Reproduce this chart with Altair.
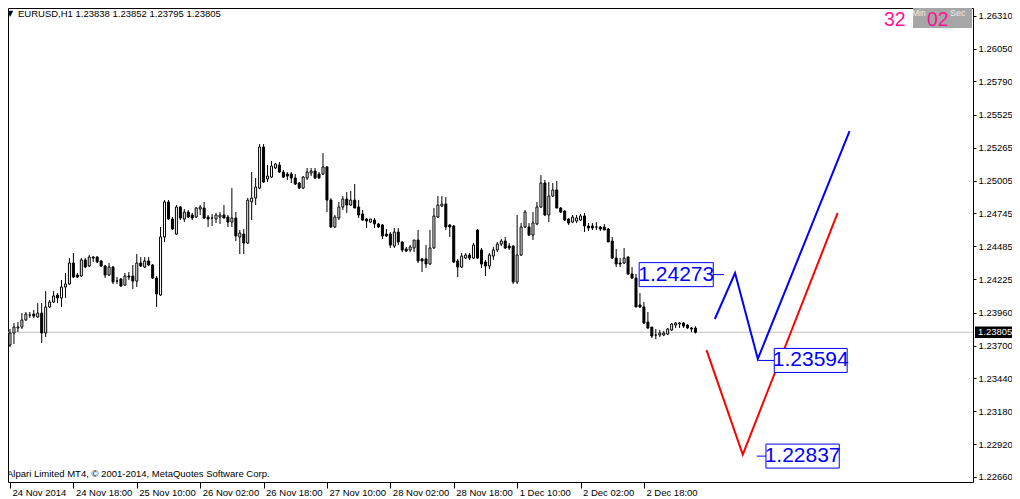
import altair as alt
import pandas as pd

# ---------------- data (EURUSD H1) ----------------
opens = [
    1.23704, 1.23799, 1.23839, 1.23846, 1.23902, 1.23941, 1.23949, 1.23926, 1.23957, 1.23799,
    1.24005, 1.24044, 1.24100, 1.24076, 1.24163, 1.24187, 1.24353, 1.24258, 1.24250, 1.24377,
    1.24329, 1.24400, 1.24400, 1.24369, 1.24329, 1.24258, 1.24321, 1.24210, 1.24226, 1.24179,
    1.24250, 1.24250, 1.24210, 1.24353, 1.24321, 1.24369, 1.24337, 1.24234, 1.24100, 1.24559,
    1.24836, 1.24701, 1.24582, 1.24796, 1.24701, 1.24756, 1.24733, 1.24717, 1.24780, 1.24788,
    1.24717, 1.24709, 1.24701, 1.24717, 1.24733, 1.24717, 1.24677, 1.24709, 1.24559, 1.24582,
    1.24511, 1.24836, 1.24867, 1.24946, 1.25271, 1.25018, 1.25033, 1.25105, 1.25128, 1.25073,
    1.25057, 1.25057, 1.25026, 1.24986, 1.24946, 1.25026, 1.25065, 1.25081, 1.25057, 1.25057,
    1.25113, 1.24851, 1.24638, 1.24709, 1.24796, 1.24859, 1.24812, 1.24851, 1.24796, 1.24741,
    1.24701, 1.24677, 1.24693, 1.24662, 1.24654, 1.24582, 1.24582, 1.24487, 1.24598, 1.24519,
    1.24464, 1.24456, 1.24472, 1.24535, 1.24385, 1.24385, 1.24345, 1.24472, 1.24717, 1.24804,
    1.24820, 1.24654, 1.24646, 1.24369, 1.24321, 1.24392, 1.24416, 1.24392, 1.24614, 1.24456,
    1.24361, 1.24329, 1.24408, 1.24456, 1.24503, 1.24527, 1.24487, 1.24487, 1.24203, 1.24416,
    1.24638, 1.24638, 1.24574, 1.24662, 1.24796, 1.24986, 1.24733, 1.24883, 1.24931, 1.24788,
    1.24764, 1.24701, 1.24677, 1.24685, 1.24693, 1.24725, 1.24646, 1.24646, 1.24638, 1.24638,
    1.24638, 1.24622, 1.24527, 1.24392, 1.24353, 1.24353, 1.24400, 1.24266, 1.24234, 1.24021,
    1.24005, 1.23886, 1.23846, 1.23783, 1.23783, 1.23783, 1.23791, 1.23823, 1.23862, 1.23870,
    1.23878, 1.23862, 1.23839, 1.23838,
]
highs = [
    1.23831, 1.23878, 1.23886, 1.23957, 1.23965, 1.23965, 1.23981, 1.24036, 1.24036, 1.24131,
    1.24060, 1.24131, 1.24115, 1.24218, 1.24274, 1.24392, 1.24432, 1.24274, 1.24392, 1.24392,
    1.24416, 1.24408, 1.24408, 1.24377, 1.24337, 1.24353, 1.24329, 1.24242, 1.24234, 1.24274,
    1.24282, 1.24337, 1.24424, 1.24400, 1.24400, 1.24400, 1.24345, 1.24250, 1.24638, 1.24851,
    1.24851, 1.24717, 1.24812, 1.24804, 1.24780, 1.24772, 1.24749, 1.24796, 1.24812, 1.24836,
    1.24733, 1.24741, 1.24749, 1.24756, 1.24812, 1.24733, 1.24946, 1.24756, 1.24614, 1.24622,
    1.24867, 1.25073, 1.25026, 1.25295, 1.25295, 1.25128, 1.25160, 1.25144, 1.25152, 1.25089,
    1.25073, 1.25073, 1.25057, 1.24994, 1.25041, 1.25105, 1.25105, 1.25105, 1.25073, 1.25223,
    1.25120, 1.24867, 1.24733, 1.24836, 1.24883, 1.24915, 1.24923, 1.24978, 1.24851, 1.24772,
    1.24709, 1.24701, 1.24709, 1.24669, 1.24662, 1.24622, 1.24598, 1.24630, 1.24630, 1.24527,
    1.24480, 1.24495, 1.24535, 1.24614, 1.24392, 1.24495, 1.24614, 1.24788, 1.24883, 1.24883,
    1.24875, 1.24662, 1.24654, 1.24385, 1.24432, 1.24432, 1.24432, 1.24511, 1.24622, 1.24472,
    1.24377, 1.24432, 1.24480, 1.24519, 1.24543, 1.24559, 1.24511, 1.24495, 1.24733, 1.24669,
    1.24772, 1.24669, 1.24756, 1.24836, 1.25049, 1.25010, 1.24994, 1.24986, 1.25002, 1.24796,
    1.24772, 1.24709, 1.24733, 1.24733, 1.24741, 1.24749, 1.24669, 1.24669, 1.24677, 1.24646,
    1.24662, 1.24630, 1.24559, 1.24464, 1.24392, 1.24472, 1.24408, 1.24321, 1.24266, 1.24115,
    1.24044, 1.23965, 1.23846, 1.23831, 1.23823, 1.23815, 1.23839, 1.23878, 1.23886, 1.23886,
    1.23886, 1.23870, 1.23846, 1.23852,
]
lows = [
    1.23688, 1.23712, 1.23807, 1.23831, 1.23894, 1.23918, 1.23918, 1.23918, 1.23720, 1.23767,
    1.23997, 1.24036, 1.24036, 1.24005, 1.24076, 1.24179, 1.24234, 1.24234, 1.24242, 1.24313,
    1.24321, 1.24361, 1.24353, 1.24321, 1.24234, 1.24250, 1.24187, 1.24187, 1.24163, 1.24171,
    1.24218, 1.24147, 1.24163, 1.24321, 1.24313, 1.24329, 1.24226, 1.24005, 1.24092, 1.24519,
    1.24693, 1.24614, 1.24574, 1.24693, 1.24677, 1.24709, 1.24693, 1.24709, 1.24733, 1.24701,
    1.24638, 1.24646, 1.24669, 1.24662, 1.24709, 1.24638, 1.24638, 1.24527, 1.24424, 1.24424,
    1.24503, 1.24693, 1.24812, 1.24938, 1.24986, 1.24994, 1.25026, 1.25097, 1.25065, 1.25026,
    1.25010, 1.24986, 1.24970, 1.24938, 1.24938, 1.25010, 1.25041, 1.25018, 1.25018, 1.25049,
    1.24756, 1.24630, 1.24630, 1.24693, 1.24772, 1.24749, 1.24804, 1.24788, 1.24709, 1.24685,
    1.24630, 1.24669, 1.24630, 1.24630, 1.24543, 1.24559, 1.24472, 1.24472, 1.24495, 1.24440,
    1.24440, 1.24440, 1.24440, 1.24353, 1.24282, 1.24313, 1.24337, 1.24464, 1.24709, 1.24796,
    1.24614, 1.24559, 1.24353, 1.24242, 1.24313, 1.24385, 1.24377, 1.24385, 1.24385, 1.24313,
    1.24250, 1.24305, 1.24377, 1.24440, 1.24487, 1.24464, 1.24456, 1.24187, 1.24187, 1.24408,
    1.24630, 1.24567, 1.24535, 1.24654, 1.24788, 1.24725, 1.24677, 1.24875, 1.24788, 1.24749,
    1.24685, 1.24654, 1.24669, 1.24669, 1.24685, 1.24598, 1.24606, 1.24614, 1.24614, 1.24606,
    1.24614, 1.24519, 1.24385, 1.24321, 1.24321, 1.24345, 1.24258, 1.24226, 1.24005, 1.23997,
    1.23870, 1.23831, 1.23759, 1.23751, 1.23767, 1.23775, 1.23783, 1.23815, 1.23839, 1.23839,
    1.23839, 1.23831, 1.23807, 1.23795,
]
closes = [
    1.23799, 1.23846, 1.23846, 1.23902, 1.23949, 1.23941, 1.23933, 1.23957, 1.23799, 1.24005,
    1.24044, 1.24092, 1.24076, 1.24163, 1.24187, 1.24353, 1.24242, 1.24242, 1.24377, 1.24321,
    1.24400, 1.24392, 1.24361, 1.24329, 1.24258, 1.24321, 1.24203, 1.24210, 1.24171, 1.24250,
    1.24242, 1.24210, 1.24353, 1.24329, 1.24369, 1.24337, 1.24234, 1.24108, 1.24559, 1.24836,
    1.24701, 1.24622, 1.24796, 1.24709, 1.24756, 1.24717, 1.24709, 1.24788, 1.24796, 1.24709,
    1.24701, 1.24709, 1.24733, 1.24733, 1.24709, 1.24677, 1.24709, 1.24567, 1.24590, 1.24511,
    1.24851, 1.24867, 1.24954, 1.25271, 1.24994, 1.25041, 1.25120, 1.25136, 1.25073, 1.25033,
    1.25041, 1.25026, 1.24978, 1.24946, 1.25033, 1.25073, 1.25081, 1.25026, 1.25026, 1.25113,
    1.24851, 1.24638, 1.24717, 1.24796, 1.24859, 1.24812, 1.24851, 1.24788, 1.24733, 1.24693,
    1.24685, 1.24701, 1.24662, 1.24638, 1.24567, 1.24567, 1.24495, 1.24598, 1.24519, 1.24456,
    1.24448, 1.24480, 1.24535, 1.24369, 1.24369, 1.24345, 1.24472, 1.24725, 1.24812, 1.24820,
    1.24638, 1.24638, 1.24361, 1.24321, 1.24408, 1.24416, 1.24392, 1.24495, 1.24392, 1.24345,
    1.24329, 1.24416, 1.24456, 1.24503, 1.24527, 1.24472, 1.24472, 1.24203, 1.24416, 1.24638,
    1.24756, 1.24574, 1.24669, 1.24796, 1.24986, 1.24733, 1.24883, 1.24931, 1.24788, 1.24756,
    1.24693, 1.24669, 1.24717, 1.24709, 1.24725, 1.24646, 1.24630, 1.24630, 1.24638, 1.24622,
    1.24614, 1.24519, 1.24392, 1.24345, 1.24345, 1.24392, 1.24266, 1.24234, 1.24005, 1.24005,
    1.23878, 1.23839, 1.23775, 1.23783, 1.23799, 1.23799, 1.23831, 1.23870, 1.23878, 1.23878,
    1.23854, 1.23839, 1.23831, 1.23805,
]

tick_index = [0, 16, 32, 48, 64, 80, 96, 112, 128, 144, 160]
tick_labels = ["24 Nov 2014", "24 Nov 18:00", "25 Nov 10:00", "26 Nov 02:00",
               "26 Nov 18:00", "27 Nov 10:00", "28 Nov 02:00", "28 Nov 18:00",
               "1 Dec 10:00", "2 Dec 02:00", "2 Dec 18:00"]
price_ticks = [1.26310, 1.26050, 1.25790, 1.25525, 1.25265, 1.25005, 1.24745,
               1.24485, 1.24225, 1.23960, 1.23700, 1.23440, 1.23180, 1.22920, 1.22660]
last_price = 1.23805

# projected zigzag paths (bar index, price)
blue_idx = [177.9, 183.0, 188.75, 211.9]
blue_price = [1.23910, 1.24273, 1.23594, 1.25397]
red_idx = [175.8, 184.95, 208.9]
red_price = [1.23664, 1.22837, 1.24749]
level_labels = [1.24273, 1.23594, 1.22837]

# ---------------- layout ----------------
W, H = 965, 474
X_DOMAIN = [-0.505, 243.06]
Y_DOMAIN = [1.22620, 1.26371]
FONT = "Liberation Sans"
BIG_FONT = "Liberation Sans"

box_left = [158.8, 192.9, 190.8]
box_right = [177.5, 211.3, 209.3]
conn_left = [177.5, 188.8, 188.5]
conn_right = [180.2, 192.9, 190.8]

xs = alt.Scale(domain=X_DOMAIN, nice=False, zero=False, padding=0)
ys = alt.Scale(domain=Y_DOMAIN, nice=False, zero=False, padding=0)

candles = pd.DataFrame({"bar": list(range(len(closes))), "open": opens,
                        "high": highs, "low": lows, "close": closes})

label_expr = " : ".join(f"datum.value == {v} ? '{t}'" for v, t in zip(tick_index, tick_labels)) + " : ''"

x_axis = alt.Axis(values=tick_index, labelExpr=label_expr, title=None, grid=False,
                  domain=False, ticks=True, tickSize=6, tickColor="black",
                  labelAlign="left", labelBaseline="top", labelOffset=2, labelPadding=-1,
                  labelFont=FONT, labelFontSize=9.5, labelColor="black",
                  labelOverlap=False, labelFlush=False)
y_axis = alt.Axis(orient="right", values=price_ticks, format=".5f", title=None, grid=False,
                  domain=False, ticks=True, tickSize=3, tickColor="black", labelPadding=2,
                  labelFont=FONT, labelFontSize=9.5, labelColor="black",
                  labelOverlap=False, labelFlush=False)


def X(field):
    return alt.X(field, scale=xs, axis=x_axis)


def Y(field):
    return alt.Y(field, scale=ys, axis=y_axis)


one = pd.DataFrame({"k": [0]})

price_df = pd.DataFrame({"price": [last_price]})
price_df["top"] = price_df["price"] + 0.00046
price_df["bot"] = price_df["price"] - 0.00046

price_line = alt.Chart(price_df).mark_rule(color="#c0c0c0", strokeWidth=1).encode(
    y=Y("price:Q"))

wicks = alt.Chart(candles).mark_rule(color="black", strokeWidth=1).encode(
    x=X("bar:Q"), y=Y("low:Q"), y2="high:Q")

bodies = alt.Chart(candles).mark_bar(size=2, stroke="black", strokeWidth=1).encode(
    x=X("bar:Q"), y=Y("open:Q"), y2="close:Q",
    fill=alt.condition("datum.close > datum.open", alt.value("white"), alt.value("black")))

blue_df = pd.DataFrame({"bar": blue_idx, "price": blue_price})
red_df = pd.DataFrame({"bar": red_idx, "price": red_price})

blue_line = alt.Chart(blue_df).mark_line(color="#0000ff", strokeWidth=2).encode(
    x=X("bar:Q"), y=Y("price:Q"))
red_line = alt.Chart(red_df).mark_line(color="#ff0000", strokeWidth=2).encode(
    x=X("bar:Q"), y=Y("price:Q"))

lab_df = pd.DataFrame({"label": level_labels, "x0": box_left, "x1": box_right,
                       "c0": conn_left, "c1": conn_right})
lab_df["top"] = lab_df["label"] + 0.00083
lab_df["bot"] = lab_df["label"] - 0.00107
lab_df["mid"] = lab_df["label"] - 0.00012
lab_df["xm"] = (lab_df["x0"] + lab_df["x1"]) / 2
lab_df["txt"] = lab_df["label"].map(lambda v: f"{v:.5f}")

boxes = alt.Chart(lab_df).mark_rect(fill="white", stroke="#0000ff", strokeWidth=1).encode(
    x=X("x0:Q"), x2="x1:Q", y=Y("top:Q"), y2="bot:Q")
connectors = alt.Chart(lab_df).mark_rule(color="#0000ff", strokeWidth=1).encode(
    x=X("c0:Q"), x2="c1:Q", y=Y("mid:Q"))
box_text = alt.Chart(lab_df).mark_text(font=BIG_FONT, fontSize=21, color="#0000ff",
                                       align="center", baseline="middle").encode(
    x=X("xm:Q"), y=Y("mid:Q"), text="txt:N")

# current price tag on the right axis
tag_rect = alt.Chart(price_df).mark_rect(fill="black").encode(
    x=alt.value(967), x2=alt.value(1004), y=Y("top:Q"), y2="bot:Q")
tag_text = alt.Chart(price_df).mark_text(font=FONT, fontSize=9.5, color="white",
                                         align="left", baseline="middle").encode(
    x=alt.value(970), y=Y("price:Q"), text=alt.Text("price:Q", format=".5f"))

# header text
arrow = alt.Chart(one).mark_text(text="▼", font="DejaVu Sans", fontSize=8, color="black",
                                 align="left", baseline="alphabetic").encode(
    x=alt.value(-1), y=alt.value(8))
title = alt.Chart(one).mark_text(text="EURUSD,H1  1.23838 1.23852 1.23795 1.23805",
                                 font=FONT, fontSize=9.5, color="black",
                                 align="left", baseline="alphabetic").encode(
    x=alt.value(10), y=alt.value(9))
copyright_ = alt.Chart(one).mark_text(text="Alpari Limited MT4, © 2001-2014, MetaQuotes Software Corp.",
                                      font=FONT, fontSize=9.5, color="black",
                                      align="left", baseline="alphabetic").encode(
    x=alt.value(-1), y=alt.value(469))

# bar timer
timer_bg = alt.Chart(one).mark_rect(fill="#a6a6a6").encode(
    x=alt.value(905), x2=alt.value(964), y=alt.value(0), y2=alt.value(20))
min_txt = alt.Chart(one).mark_text(text="Min", font=FONT, fontSize=8.5, color="#eeeeee",
                                   align="left", baseline="alphabetic").encode(
    x=alt.value(904), y=alt.value(8))
sec_txt = alt.Chart(one).mark_text(text="Sec", font=FONT, fontSize=9, color="#eeeeee",
                                   align="left", baseline="alphabetic").encode(
    x=alt.value(942), y=alt.value(8))
t32 = alt.Chart(one).mark_text(text="32", font=FONT, fontSize=19.5, color="#ff1493",
                               align="left", baseline="alphabetic").encode(
    x=alt.value(876), y=alt.value(18))
t02 = alt.Chart(one).mark_text(text="02", font=FONT, fontSize=19.5, color="#ff1493",
                               align="left", baseline="alphabetic").encode(
    x=alt.value(919), y=alt.value(18))

chart = alt.layer(
    price_line, wicks, bodies, blue_line, red_line, connectors, boxes, box_text,
    tag_rect, tag_text, arrow, title, copyright_, timer_bg, min_txt, sec_txt, t32, t02
).properties(
    width=W, height=H,
    autosize=alt.AutoSizeParams(type="none"),
    padding={"left": 0, "top": 0, "right": 39, "bottom": 17},
    background="white",
).configure_view(stroke="black", strokeWidth=1)

chart.save("out.html", embed_options={"renderer": "svg", "actions": False})
